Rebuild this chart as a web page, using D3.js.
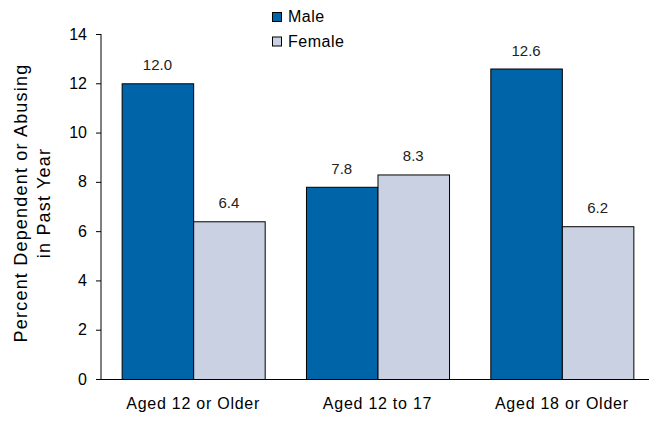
<!DOCTYPE html>
<html><head><meta charset="utf-8">
<script src="https://cdn.jsdelivr.net/npm/d3@7"></script>
<style>body{margin:0;background:#fff}svg{display:block;font-family:"Liberation Sans",Arial,sans-serif}</style>
</head><body><svg id="c" width="651" height="423"></svg>
<script>
const categories = ["Aged 12 or Older", "Aged 12 to 17", "Aged 18 or Older"];
const seriesNames = ["Male", "Female"];
const maleValues = [12.0, 7.8, 12.6];
const femaleValues = [6.4, 8.3, 6.2];
const yTicks = [0, 2, 4, 6, 8, 10, 12, 14];
const colors = ["#0064A8", "#C9D1E2"];

const svg = d3.select("#c");
const series = [maleValues, femaleValues];
const x0 = d3.scaleBand().domain(categories).range([101, 654]).paddingInner(0.224).paddingOuter(0.112);
const x1 = d3.scaleBand().domain(seriesNames).range([0, x0.bandwidth()]);
const y = d3.scaleLinear().domain([0, 14]).range([379, 34]);

// y axis
const yAxis = svg.append("g").attr("transform", "translate(101,0)")
  .call(d3.axisLeft(y).tickValues(yTicks).tickSize(5).tickPadding(9).tickFormat(d3.format("d")));
yAxis.select(".domain").attr("stroke", "#000").attr("d", "M0,34V379");
yAxis.selectAll(".tick line").attr("stroke", "#000");
yAxis.selectAll("text").attr("font-size", 16).attr("fill", "#000").attr("font-family", "Liberation Sans, Arial, sans-serif");

// bars
categories.forEach((c, i) => {
  seriesNames.forEach((s, j) => {
    const v = series[j][i];
    svg.append("rect")
      .attr("x", x0(c) + x1(s) + 0.5)
      .attr("y", y(v) + 0.5)
      .attr("width", x1.bandwidth())
      .attr("height", y(0) - y(v))
      .attr("fill", colors[j]).attr("stroke", "#000").attr("stroke-width", 1);
    svg.append("text")
      .attr("x", x0(c) + x1(s) + x1.bandwidth() / 2)
      .attr("y", y(v) - 13)
      .attr("text-anchor", "middle").attr("font-size", 15).attr("fill", "#222")
      .text(v.toFixed(1));
  });
});

// x axis
const xAxis = svg.append("g").attr("transform", "translate(0,379.5)")
  .call(d3.axisBottom(x0).tickSize(0).tickPadding(18));
xAxis.select(".domain").attr("stroke", "#000").attr("d", "M96,0H649");
xAxis.selectAll("text").attr("font-size", 16).attr("fill", "#000").attr("letter-spacing", 0.75)
  .attr("font-family", "Liberation Sans, Arial, sans-serif");

// y label
const yl = svg.append("text").attr("transform", "translate(0,203) rotate(-90)")
  .attr("text-anchor", "middle").attr("font-size", 18).attr("letter-spacing", 1.2).attr("fill", "#000");
yl.append("tspan").attr("x", 0).attr("y", 27).text("Percent Dependent or Abusing");
yl.append("tspan").attr("x", 0).attr("y", 50).text("in Past Year");

// legend
seriesNames.forEach((s, j) => {
  const g = svg.append("g").attr("transform", `translate(272,${12 + j * 24.5})`);
  g.append("rect").attr("x", 0.5).attr("y", 0.5).attr("width", 9).attr("height", 9)
    .attr("fill", colors[j]).attr("stroke", "#000");
  g.append("text").attr("x", 16).attr("y", 10).attr("font-size", 16).attr("letter-spacing", 0.5)
    .attr("fill", "#000").text(s);
});
</script></body></html>
